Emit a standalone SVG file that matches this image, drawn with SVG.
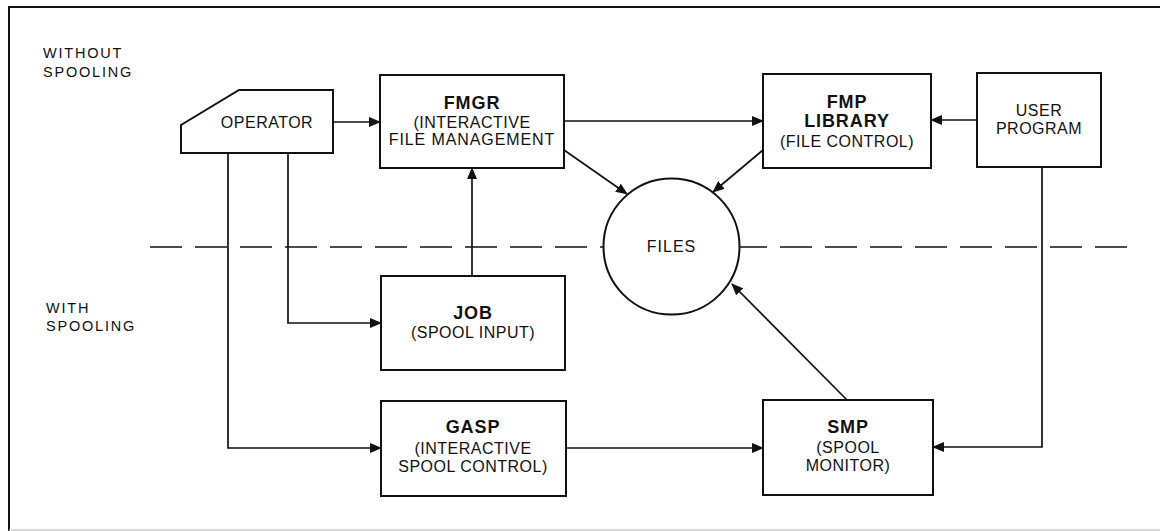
<svg xmlns="http://www.w3.org/2000/svg" width="1160" height="531" viewBox="0 0 1160 531">
<style>
  .box { fill: #fff; stroke: #111; stroke-width: 2; }
  .ln { fill: none; stroke: #111; stroke-width: 1.7; }
  .t { font-family: "Liberation Sans", Arial, sans-serif; font-size: 16px; fill: #111; text-anchor: middle; letter-spacing: 0.5px; }
  .b { font-family: "Liberation Sans", Arial, sans-serif; font-size: 18px; font-weight: bold; fill: #111; text-anchor: middle; letter-spacing: 0.9px; }
  .side { font-family: "Liberation Sans", Arial, sans-serif; font-size: 14.5px; fill: #111; letter-spacing: 1.8px; }
</style>
<defs>
  <marker id="ah" markerWidth="12" markerHeight="10" refX="11" refY="5" orient="auto" markerUnits="userSpaceOnUse">
    <path d="M0,0 L12,5 L0,10 Z" fill="#111"/>
  </marker>
</defs>
<rect width="1160" height="531" fill="#fff"/>
<g id="frame">
  <line x1="9" y1="7" x2="1160" y2="7" stroke="#111" stroke-width="2"/>
  <line x1="9" y1="6" x2="9" y2="531" stroke="#111" stroke-width="2"/>
  <line x1="9" y1="530" x2="1160" y2="530" stroke="#ccc" stroke-width="1.5"/>
</g>
<g id="labels">
  <text class="side" x="43" y="58">WITHOUT</text>
  <text class="side" x="43" y="77">SPOOLING</text>
  <text class="side" x="46" y="313">WITH</text>
  <text class="side" x="46" y="331">SPOOLING</text>
</g>
<g id="connectors">
  <line x1="150" y1="247" x2="1130" y2="247" stroke="#111" stroke-width="1.5" stroke-dasharray="32 13"/>
  <line class="ln" x1="333" y1="122" x2="380" y2="122" marker-end="url(#ah)"/>
  <line class="ln" x1="564" y1="121" x2="763" y2="121" marker-end="url(#ah)"/>
  <line class="ln" x1="977" y1="120" x2="931" y2="120" marker-end="url(#ah)"/>
  <line class="ln" x1="564" y1="150" x2="627" y2="194" marker-end="url(#ah)"/>
  <line class="ln" x1="763" y1="150" x2="713" y2="192" marker-end="url(#ah)"/>
  <line class="ln" x1="472" y1="276" x2="472" y2="168" marker-end="url(#ah)"/>
  <polyline class="ln" points="288,153 288,323 381,323" marker-end="url(#ah)"/>
  <polyline class="ln" points="228,153 228,448 381,448" marker-end="url(#ah)"/>
  <line class="ln" x1="566" y1="448" x2="763" y2="448" marker-end="url(#ah)"/>
  <polyline class="ln" points="1042,167 1042,447 933,447" marker-end="url(#ah)"/>
  <line class="ln" x1="847" y1="400" x2="732" y2="284" marker-end="url(#ah)"/>
</g>
<g id="operator">
  <polygon class="box" points="181,125 239,90 333,90 333,153 181,153"/>
  <text class="t" x="267" y="128">OPERATOR</text>
</g>
<g id="fmgr">
  <rect class="box" x="380" y="75" width="184" height="93"/>
  <text class="b" x="472" y="109">FMGR</text>
  <text class="t" x="472" y="128">(INTERACTIVE</text>
  <text class="t" x="472" y="145" style="letter-spacing:0.9px">FILE MANAGEMENT</text>
</g>
<g id="fmp">
  <rect class="box" x="763" y="74" width="168" height="94"/>
  <text class="b" x="847" y="108">FMP</text>
  <text class="b" x="847" y="127">LIBRARY</text>
  <text class="t" x="847" y="147">(FILE CONTROL)</text>
</g>
<g id="user">
  <rect class="box" x="977" y="73" width="124" height="94"/>
  <text class="t" x="1039" y="116">USER</text>
  <text class="t" x="1039" y="134">PROGRAM</text>
</g>
<g id="files">
  <circle class="box" cx="671.5" cy="246.5" r="68"/>
  <text class="t" x="671.5" y="252" style="letter-spacing:1px">FILES</text>
</g>
<g id="job">
  <rect class="box" x="381" y="276" width="184" height="94"/>
  <text class="b" x="473" y="319">JOB</text>
  <text class="t" x="473" y="338">(SPOOL INPUT)</text>
</g>
<g id="gasp">
  <rect class="box" x="381" y="401" width="185" height="95"/>
  <text class="b" x="473" y="433">GASP</text>
  <text class="t" x="473" y="454">(INTERACTIVE</text>
  <text class="t" x="473" y="472">SPOOL CONTROL)</text>
</g>
<g id="smp">
  <rect class="box" x="763" y="400" width="170" height="95"/>
  <text class="b" x="848" y="433">SMP</text>
  <text class="t" x="848" y="453">(SPOOL</text>
  <text class="t" x="848" y="471">MONITOR)</text>
</g>
</svg>
